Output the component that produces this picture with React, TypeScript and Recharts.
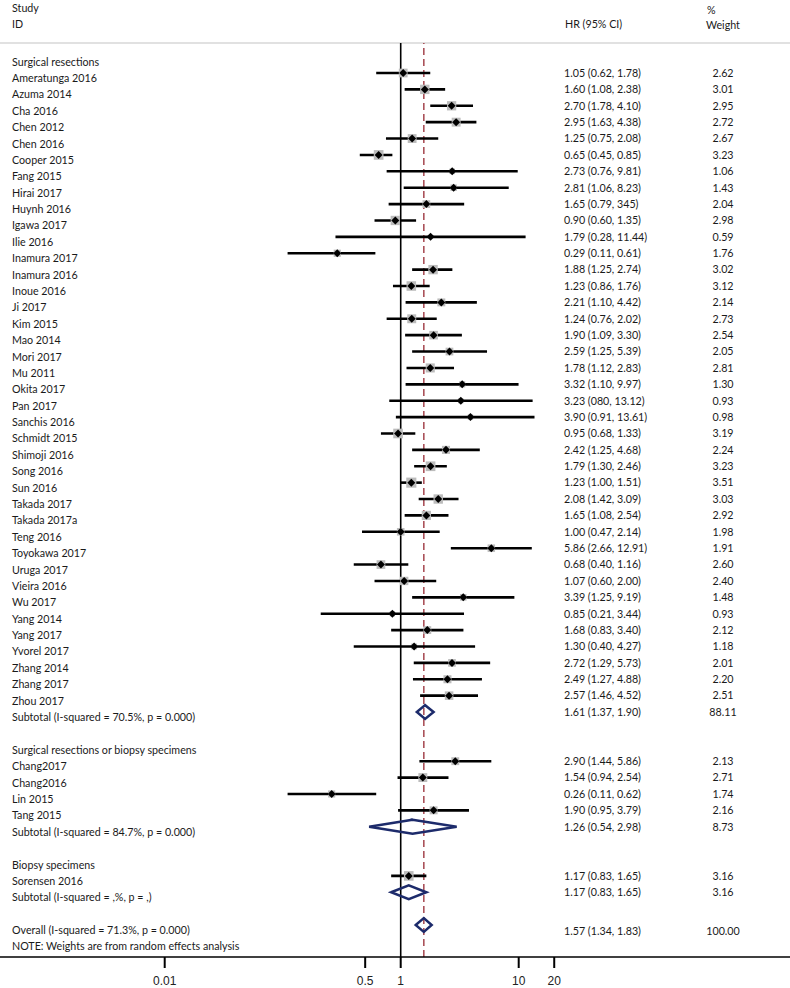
import React from 'react';
import { ScatterChart, Scatter, XAxis, YAxis, ErrorBar, ReferenceLine } from 'recharts';

// ---------------- data ----------------
const groupTitles = [
  'Surgical resections',
  'Surgical resections or biopsy specimens',
  'Biopsy specimens',
];

const group1Studies = [
  'Ameratunga 2016', 'Azuma 2014', 'Cha 2016', 'Chen 2012', 'Chen 2016', 'Cooper 2015', 'Fang 2015',
  'Hirai 2017', 'Huynh 2016', 'Igawa 2017', 'Ilie 2016', 'Inamura 2017', 'Inamura 2016', 'Inoue 2016',
  'Ji 2017', 'Kim 2015', 'Mao 2014', 'Mori 2017', 'Mu 2011', 'Okita 2017', 'Pan 2017', 'Sanchis 2016',
  'Schmidt 2015', 'Shimoji 2016', 'Song 2016', 'Sun 2016', 'Takada 2017', 'Takada 2017a', 'Teng 2016',
  'Toyokawa 2017', 'Uruga 2017', 'Vieira 2016', 'Wu 2017', 'Yang 2014', 'Yang 2017', 'Yvorel 2017',
  'Zhang 2014', 'Zhang 2017', 'Zhou 2017',
];
const group1HR = [
  1.05, 1.60, 2.70, 2.95, 1.25, 0.65, 2.73, 2.81, 1.65, 0.90, 1.79, 0.29, 1.88, 1.23, 2.21, 1.24, 1.90,
  2.59, 1.78, 3.32, 3.23, 3.90, 0.95, 2.42, 1.79, 1.23, 2.08, 1.65, 1.00, 5.86, 0.68, 1.07, 3.39, 0.85,
  1.68, 1.30, 2.72, 2.49, 2.57,
];
const group1Low = [
  0.62, 1.08, 1.78, 1.63, 0.75, 0.45, 0.76, 1.06, 0.79, 0.60, 0.28, 0.11, 1.25, 0.86, 1.10, 0.76, 1.09,
  1.25, 1.12, 1.10, 0.80, 0.91, 0.68, 1.25, 1.30, 1.00, 1.42, 1.08, 0.47, 2.66, 0.40, 0.60, 1.25, 0.21,
  0.83, 0.40, 1.29, 1.27, 1.46,
];
const group1High = [
  1.78, 2.38, 4.10, 4.38, 2.08, 0.85, 9.81, 8.23, 3.45, 1.35, 11.44, 0.61, 2.74, 1.76, 4.42, 2.02, 3.30,
  5.39, 2.83, 9.97, 13.12, 13.61, 1.33, 4.68, 2.46, 1.51, 3.09, 2.54, 2.14, 12.91, 1.16, 2.00, 9.19, 3.44,
  3.40, 4.27, 5.73, 4.88, 4.52,
];
const group1CiText = [
  '1.05 (0.62, 1.78)', '1.60 (1.08, 2.38)', '2.70 (1.78, 4.10)', '2.95 (1.63, 4.38)', '1.25 (0.75, 2.08)',
  '0.65 (0.45, 0.85)', '2.73 (0.76, 9.81)', '2.81 (1.06, 8.23)', '1.65 (0.79, 345)', '0.90 (0.60, 1.35)',
  '1.79 (0.28, 11.44)', '0.29 (0.11, 0.61)', '1.88 (1.25, 2.74)', '1.23 (0.86, 1.76)', '2.21 (1.10, 4.42)',
  '1.24 (0.76, 2.02)', '1.90 (1.09, 3.30)', '2.59 (1.25, 5.39)', '1.78 (1.12, 2.83)', '3.32 (1.10, 9.97)',
  '3.23 (080, 13.12)', '3.90 (0.91, 13.61)', '0.95 (0.68, 1.33)', '2.42 (1.25, 4.68)', '1.79 (1.30, 2.46)',
  '1.23 (1.00, 1.51)', '2.08 (1.42, 3.09)', '1.65 (1.08, 2.54)', '1.00 (0.47, 2.14)', '5.86 (2.66, 12.91)',
  '0.68 (0.40, 1.16)', '1.07 (0.60, 2.00)', '3.39 (1.25, 9.19)', '0.85 (0.21, 3.44)', '1.68 (0.83, 3.40)',
  '1.30 (0.40, 4.27)', '2.72 (1.29, 5.73)', '2.49 (1.27, 4.88)', '2.57 (1.46, 4.52)',
];
const group1Weight = [
  2.62, 3.01, 2.95, 2.72, 2.67, 3.23, 1.06, 1.43, 2.04, 2.98, 0.59, 1.76, 3.02, 3.12, 2.14, 2.73, 2.54,
  2.05, 2.81, 1.30, 0.93, 0.98, 3.19, 2.24, 3.23, 3.51, 3.03, 2.92, 1.98, 1.91, 2.60, 2.40, 1.48, 0.93,
  2.12, 1.18, 2.01, 2.20, 2.51,
];

const group2Studies = ['Chang2017', 'Chang2016', 'Lin 2015', 'Tang 2015'];
const group2HR = [2.90, 1.54, 0.26, 1.90];
const group2Low = [1.44, 0.94, 0.11, 0.95];
const group2High = [5.86, 2.54, 0.62, 3.79];
const group2CiText = ['2.90 (1.44, 5.86)', '1.54 (0.94, 2.54)', '0.26 (0.11, 0.62)', '1.90 (0.95, 3.79)'];
const group2Weight = [2.13, 2.71, 1.74, 2.16];

const group3Studies = ['Sorensen 2016'];
const group3HR = [1.17];
const group3Low = [0.83];
const group3High = [1.65];
const group3CiText = ['1.17 (0.83, 1.65)'];
const group3Weight = [3.16];

const subtotalLabels = [
  'Subtotal (I-squared = 70.5%, p = 0.000)',
  'Subtotal (I-squared = 84.7%, p = 0.000)',
  'Subtotal (I-squared = ,%, p = ,)',
];
const subtotalHR = [1.61, 1.26, 1.17];
const subtotalLow = [1.37, 0.54, 0.83];
const subtotalHigh = [1.90, 2.98, 1.65];
const subtotalCiText = ['1.61 (1.37, 1.90)', '1.26 (0.54, 2.98)', '1.17 (0.83, 1.65)'];
const subtotalWeight = [88.11, 8.73, 3.16];

const overallLabel = 'Overall (I-squared = 71.3%, p = 0.000)';
const overallHR = 1.57;
const overallLow = 1.34;
const overallHigh = 1.83;
const overallCiText = '1.57 (1.34, 1.83)';
const overallWeight = 100.0;
const noteText = 'NOTE: Weights are from random effects analysis';

const xTicks = [0.01, 0.5, 1, 10, 20];

// ---------------- layout / style ----------------
const W = 790;
const H = 988;
const PLOT_TOP = 43;
const AXIS_H = 31;
const X_DOMAIN = [Math.pow(10, -3.3958), Math.pow(10, 3.2991)];
const Y_DOMAIN = [-0.831, 54.95];
const DIAMOND_HALF = 0.42;
const NAVY = '#1d2b6b';
const RED = '#a5464f';
const FONT = 'Lato, "Open Sans", sans-serif';
const FONT_SIZE = 10.7;
const TEXT_COLOR = '#1a1a1a';

// ---------------- rows ----------------
type Row = {
  x: number;
  y: number;
  kind: string;
  label: string;
  ci?: string;
  wt?: string;
  w?: number;
  err?: [number, number];
};

const groups = [
  { names: group1Studies, hr: group1HR, lo: group1Low, hi: group1High, ci: group1CiText, wt: group1Weight },
  { names: group2Studies, hr: group2HR, lo: group2Low, hi: group2High, ci: group2CiText, wt: group2Weight },
  { names: group3Studies, hr: group3HR, lo: group3Low, hi: group3High, ci: group3CiText, wt: group3Weight },
];

const textRows: Row[] = [];
const studyRows: Row[] = [];
const diamonds: { hr: number; lo: number; hi: number; row: number }[] = [];

let r = 0;
groups.forEach((g, gi) => {
  textRows.push({ x: 1, y: r, kind: 'header', label: groupTitles[gi] });
  r += 1;
  g.names.forEach((name, i) => {
    const row: Row = {
      x: g.hr[i],
      y: r,
      kind: 'study',
      label: name,
      ci: g.ci[i],
      wt: g.wt[i].toFixed(2),
      w: g.wt[i],
      err: [g.hr[i] - g.lo[i], g.hi[i] - g.hr[i]],
    };
    studyRows.push(row);
    textRows.push({ ...row, x: 1 });
    r += 1;
  });
  textRows.push({
    x: 1,
    y: r,
    kind: 'subtotal',
    label: subtotalLabels[gi],
    ci: subtotalCiText[gi],
    wt: subtotalWeight[gi].toFixed(2),
  });
  diamonds.push({ hr: subtotalHR[gi], lo: subtotalLow[gi], hi: subtotalHigh[gi], row: r });
  r += 2;
});
textRows.push({ x: 1, y: r, kind: 'overall', label: overallLabel, ci: overallCiText, wt: overallWeight.toFixed(2) });
diamonds.push({ hr: overallHR, lo: overallLow, hi: overallHigh, row: r });
r += 1;
textRows.push({ x: 1, y: r, kind: 'note', label: noteText });

const diamondData = diamonds.map((d) => [
  { x: d.lo, y: d.row },
  { x: d.hr, y: d.row - DIAMOND_HALF },
  { x: d.hi, y: d.row },
  { x: d.hr, y: d.row + DIAMOND_HALF },
  { x: d.lo, y: d.row },
  { x: d.hr, y: d.row - DIAMOND_HALF },
]);

// ---------------- shapes ----------------
const BoxShape = (props: any) => {
  const { cx, cy, payload } = props;
  const s = 5.4 * Math.sqrt(payload.w);
  return <rect x={cx - s / 2} y={cy - s / 2} width={s} height={s} fill="#bcbcbc" />;
};

const PointShape = (props: any) => {
  const { cx, cy } = props;
  const d = 4;
  return <polygon points={`${cx - d},${cy} ${cx},${cy - d} ${cx + d},${cy} ${cx},${cy + d}`} fill="#000" />;
};

const EmptyShape = () => <g />;

const TextShape = (props: any) => {
  const { cy, payload } = props;
  const rightShift = payload.kind === 'overall' ? 6 : 0;
  return (
    <g fontFamily={FONT} fontSize={FONT_SIZE} fill={TEXT_COLOR}>
      <text x={12} y={cy + 9}>{payload.label}</text>
      {payload.ci ? <text x={564} y={cy + 3.8 + rightShift}>{payload.ci}</text> : null}
      {payload.wt ? (
        <text x={723} y={cy + 3.8 + rightShift} textAnchor="middle">
          {payload.wt}
        </text>
      ) : null}
    </g>
  );
};

const headerStyle: React.CSSProperties = {
  position: 'absolute',
  fontFamily: FONT,
  fontSize: FONT_SIZE,
  lineHeight: '14px',
  color: TEXT_COLOR,
  whiteSpace: 'nowrap',
};

export default function App() {
  return (
    <div style={{ position: 'absolute', left: 0, top: 0, width: W, height: H, background: '#fff' }}>
      <div style={{ ...headerStyle, left: 12, top: 1 }}>Study</div>
      <div style={{ ...headerStyle, left: 12, top: 17 }}>ID</div>
      <div style={{ ...headerStyle, left: 565, top: 17 }}>HR (95% CI)</div>
      <div style={{ ...headerStyle, left: 707, top: 3 }}>%</div>
      <div style={{ ...headerStyle, left: 706, top: 18 }}>Weight</div>
      <ScatterChart width={W} height={H} margin={{ top: PLOT_TOP, right: 0, bottom: 0, left: 0 }}>
        <XAxis
          type="number"
          dataKey="x"
          scale="log"
          domain={X_DOMAIN}
          allowDataOverflow
          ticks={xTicks}
          interval={0}
          height={AXIS_H}
          tickSize={11}
          tickMargin={8}
          tickFormatter={(v: number) => String(v)}
          axisLine={{ stroke: '#000', strokeWidth: 1.6 }}
          tickLine={{ stroke: '#000', strokeWidth: 2 }}
          tick={{ fontFamily: '"Liberation Sans", Arial, sans-serif', fontSize: 12, fill: '#222' }}
        />
        <YAxis type="number" dataKey="y" domain={Y_DOMAIN} reversed allowDataOverflow hide width={0} />
        <ReferenceLine y={Y_DOMAIN[0]} stroke="#c4c4c4" strokeWidth={1.2} />
        <ReferenceLine x={1} stroke="#000" strokeWidth={1.6} />
        <ReferenceLine x={overallHR} stroke={RED} strokeWidth={1.5} strokeDasharray="7 4" />
        <Scatter data={studyRows} shape={BoxShape} isAnimationActive={false} />
        <Scatter data={studyRows} shape={PointShape} isAnimationActive={false}>
          <ErrorBar dataKey="err" direction="x" width={0} stroke="#000" strokeWidth={2.6} />
        </Scatter>
        {diamondData.map((d, i) => (
          <Scatter
            key={i}
            data={d}
            fill={NAVY}
            line={{ stroke: NAVY, strokeWidth: 2.5, fill: 'none' }}
            lineType="joint"
            shape={EmptyShape}
            isAnimationActive={false}
          />
        ))}
        <Scatter data={textRows} shape={TextShape} isAnimationActive={false} />
      </ScatterChart>
    </div>
  );
}
